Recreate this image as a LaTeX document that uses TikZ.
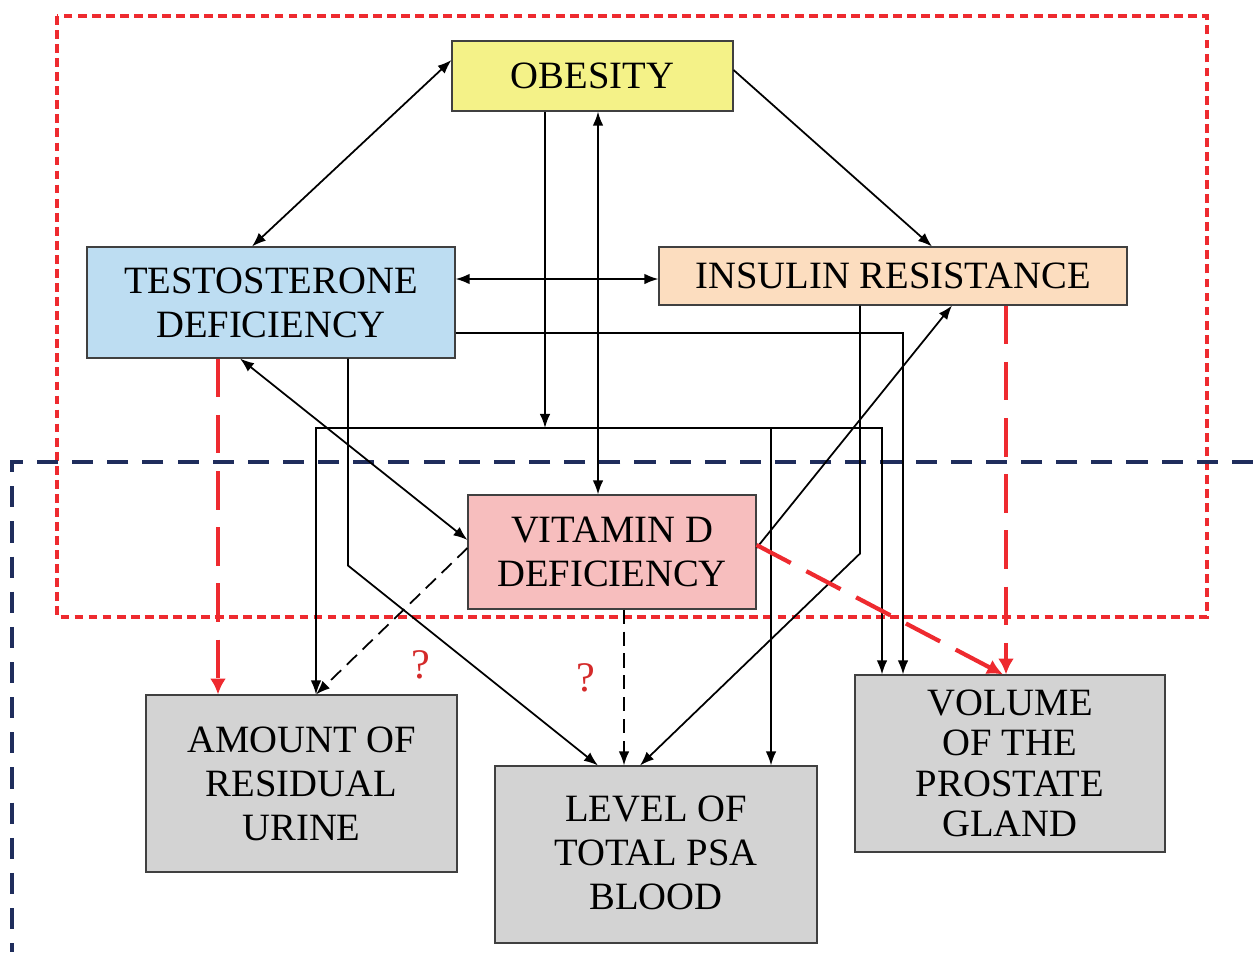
\documentclass[tikz,border=0pt]{standalone}
\usepackage{fontspec}
\setmainfont{Liberation Serif}
\usetikzlibrary{arrows.meta}

\definecolor{obesityyellow}{HTML}{F4F288}
\definecolor{testoblue}{HTML}{BDDDF2}
\definecolor{insulinpeach}{HTML}{FCDDBF}
\definecolor{vitdpink}{HTML}{F7BEBE}
\definecolor{outcomegray}{HTML}{D3D3D3}
\definecolor{framered}{HTML}{EE2A2F}
\definecolor{framenavy}{HTML}{1F2D5C}
\definecolor{qred}{HTML}{D42A2A}

\tikzset{
  factor/.style={draw=black!75, line width=0.6pt, inner sep=0pt, align=center,
    font=\fontsize{22}{25}\selectfont},
  outcome/.style={factor, fill=outcomegray, minimum width=62mm, minimum height=35.4mm},
  causal/.style={line width=1pt, ->},
  uncertain/.style={causal, dash pattern=on 8pt off 4.5pt},
  redarrow/.style={line width=2.4pt, draw=framered, dash pattern=on 22pt off 10pt,
    -{Latex[length=9pt,width=9pt]}},
  qmark/.style={text=qred, font=\fontsize{24}{24}\selectfont, inner sep=0pt},
}

\begin{document}
\begin{tikzpicture}[x=0.2mm, y=-0.2mm, >={Latex[length=8pt,width=6pt]}]
  \useasboundingbox (0,0) rectangle (1253,952);

  % regions
  \draw[framered, line width=2pt, dash pattern=on 5pt off 3pt] (57,16) rectangle (1207,617);
  \draw[framenavy, line width=2pt, dash pattern=on 12pt off 8pt] (1253,462) -- (12,462) -- (12,952);

  % factors
  \node[factor, fill=obesityyellow, minimum width=56.2mm, minimum height=14mm] (obesity) at (592.5,76) {OBESITY};
  \node[factor, fill=testoblue, minimum width=73.6mm, minimum height=22.2mm] (testo) at (271,302.5) {TESTOSTERONE\\DEFICIENCY};
  \node[factor, fill=insulinpeach, minimum width=93.6mm, minimum height=11.6mm] (insulin) at (893,276) {INSULIN RESISTANCE};
  \node[factor, fill=vitdpink, minimum width=57.6mm, minimum height=22.8mm] (vitd) at (612,552) {VITAMIN D\\DEFICIENCY};

  % outcomes
  \node[outcome, minimum width=62.2mm] (amount) at (301.5,783.5) {AMOUNT OF\\RESIDUAL\\URINE};
  \node[outcome, minimum width=64.4mm] (psa) at (656,854.5) {\\[-12pt]LEVEL OF\\TOTAL PSA\\BLOOD};
  \node[outcome, font=\fontsize{22}{23}\selectfont] (volume) at (1010,763.5) {VOLUME\\OF THE\\PROSTATE\\GLAND};

  \node[qmark] (q1) at (421,665) {?};
  \node[qmark] (q2) at (586,678) {?};

  % connectors
  \coordinate (busL) at (316,428);
  \coordinate (busR) at (882,428);
  \draw[causal,<->] ([yshift=3.2mm]obesity.west) -- ([xshift=-3.8mm]testo.north);
  \draw[causal] ([yshift=1.2mm]obesity.east) -- ([xshift=7.8mm]insulin.north);
  \draw[causal,<->] ([yshift=4.7mm]testo.east) -- ([yshift=4.7mm]testo.east -| insulin.west);
  \draw[causal] ([xshift=-9.5mm]obesity.south) -- ([xshift=-9.5mm]obesity.south |- busL);
  \draw[causal,<->] (busL |- amount.north) -- (busL) -- (busR) -- (busR |- volume.north);
  \draw[causal] ([xshift=23mm]psa.north |- busL) -- ([xshift=23mm]psa.north);
  \draw[causal,<->] ([xshift=1.1mm]obesity.south) -- ([xshift=1.1mm]obesity.south |- vitd.north);
  \draw[causal] ([yshift=-6.1mm]testo.east) -| ([xshift=-21.4mm]volume.north);
  \draw[causal] ([xshift=15.4mm]testo.south) -- ++(0,-41.4mm) -- ([xshift=-11.6mm]psa.north);
  \draw[causal] ([xshift=-6.6mm]insulin.south) -- ++(0,-49.6mm) -- ([xshift=-3.2mm]psa.north);
  \draw[causal,<->] ([xshift=-6.2mm]testo.south) -- ([yshift=2.4mm]vitd.west);
  \draw[causal] ([yshift=0.8mm]vitd.east) -- ([xshift=11.8mm]insulin.south);
  \draw[uncertain] ([yshift=0.8mm]vitd.west) -- (busL |- amount.north);
  \draw[uncertain] ([xshift=2.4mm]vitd.south) -- ([xshift=2.4mm]vitd.south |- psa.north);
  \draw[redarrow] ([xshift=-10.6mm]testo.south) -- ([xshift=-10.6mm]testo.south |- amount.north);
  \draw[redarrow] ([xshift=22.6mm]insulin.south) -- ([xshift=22.6mm]insulin.south |- volume.north);
  \draw[redarrow] ([yshift=1.4mm]vitd.east) -- ([xshift=-1.4mm]volume.north);
\end{tikzpicture}
\end{document}
